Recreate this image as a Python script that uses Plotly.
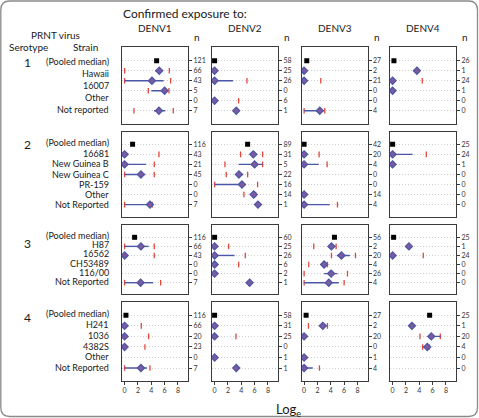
import plotly.graph_objects as go

W, H = 479, 418
N = None

columns = ["DENV1", "DENV2", "DENV3", "DENV4"]
serotypes = ["1", "2", "3", "4"]
strains_1 = ["(Pooled median)", "Hawaii", "16007", "Other", "Not reported"]
strains_2 = ["(Pooled median)", "16681", "New Guinea B", "New Guinea C", "PR-159", "Other", "Not Reported"]
strains_3 = ["(Pooled median)", "H87", "16562", "CH53489", "116/00", "Not Reported"]
strains_4 = ["(Pooled median)", "H241", "1036", "4382S", "Other", "Not Reported"]
x_ticks = [0, 2, 4, 6, 8]

# ---- DENV1 ----
denv1_median = [[4.8, 5.2, 4.1, 6.0, N, 5.15],
                [1.2, 0, 0, 2.45, N, N, 3.8],
                [1.5, 2.45, 0, N, N, 2.4],
                [0.2, 0, 0, 0, N, 2.45]]
denv1_lo = [[N, 4.6, 0, 4.0, N, 4.4],
            [N, N, 0, 0, N, N, 0],
            [N, 0, N, N, N, 0],
            [N, N, N, N, N, 0]]
denv1_hi = [[N, 5.6, 5.85, 6.5, N, 6.1],
            [N, N, 3.2, 3.1, N, N, 4.0],
            [N, 3.6, N, N, N, 4.3],
            [N, N, N, N, N, 3.35]]
denv1_red_lo = [[N, 0, 0, 3.55, N, 1.4],
                [N, 0, 0, 0, N, N, 0],
                [N, 0, 0, N, N, 0],
                [N, 0, 0, 0, N, 0]]
denv1_red_hi = [[N, 6.7, 6.9, 6.65, N, 7.3],
                [N, 5.15, 4.45, 4.45, N, N, 4.15],
                [N, 4.45, 4.45, N, N, 5.4],
                [N, 2.5, 3.6, 3.05, N, 3.8]]
denv1_n = [[121, 66, 43, 5, 0, 7], [116, 43, 21, 45, 0, 0, 7],
           [116, 66, 43, 0, 0, 7], [116, 66, 20, 23, 0, 7]]

# ---- DENV2 ----
denv2_median = [[0, 0, 0, N, 0, 3.25],
                [4.95, 5.8, 6.0, 3.65, 4.1, 5.85, 6.5],
                [0, 0, 0, 0, 0, 5.25],
                [0, 0, 0, N, 0, 3.25]]
denv2_lo = [[N, N, 0, N, N, N],
            [N, 5.4, 3.6, 3.2, 0, 5.5, N],
            [N, N, 0, N, N, N],
            [N, N, N, N, N, N]]
denv2_hi = [[N, N, 2.75, N, N, N],
            [N, 6.2, 7.2, 4.3, 4.6, 6.2, N],
            [N, N, 3.0, N, N, N],
            [N, N, N, N, N, N]]
denv2_red_lo = [[N, N, 0, N, 0, N],
                [N, 3.9, 1.55, 1.75, 0, 4.4, N],
                [N, 0, 0, 0, N, N],
                [N, N, 0, N, N, N]]
denv2_red_hi = [[N, N, 4.85, N, 3.6, N],
                [N, 7.2, 7.2, 4.95, 6.45, 6.15, N],
                [N, 2.1, 4.6, 3.6, N, N],
                [N, N, 3.2, N, N, N]]
denv2_n = [[58, 25, 26, 0, 6, 1], [89, 31, 5, 22, 16, 14, 1],
           [60, 25, 26, 6, 2, 1], [58, 31, 25, 0, 1, 1]]

# ---- DENV3 ----
denv3_median = [[0.4, 0, 0, N, N, 2.35],
                [0, 0, 0, N, N, 0, 0],
                [4.55, 4.1, 5.6, 3.0, 4.05, 3.7],
                [0.3, 2.8, 0, N, 0, 0]]
denv3_lo = [[N, N, N, N, N, 0],
            [N, N, 0, N, N, N, 0],
            [N, 3.9, 4.9, 2.6, 3.0, 0],
            [N, 2.4, N, N, N, 0]]
denv3_hi = [[N, N, N, N, N, 3.0],
            [N, N, 2.2, N, N, N, 3.85],
            [N, 4.7, 6.85, 3.5, 5.0, 5.2],
            [N, 3.4, N, N, N, 1.3]]
denv3_red_lo = [[N, N, 0, N, N, 0],
                [N, 0, 0, N, N, N, 0],
                [N, 1.45, 4.1, 0.7, 0, 0],
                [N, 0.65, N, N, N, 0]]
denv3_red_hi = [[N, N, 2.5, N, N, 3.1],
                [N, 2.25, 3.45, N, N, N, 5.0],
                [N, 4.8, 7.7, 3.5, 6.5, 6.0],
                [N, 3.5, N, N, N, 2.3]]
denv3_n = [[27, 2, 21, 0, 0, 4], [42, 20, 4, 0, 0, 14, 4],
           [56, 2, 20, 4, 26, 4], [27, 2, 20, 0, 1, 4]]

# ---- DENV4 ----
denv4_median = [[0.2, 3.65, 0, 0, N, N],
                [0, 0, 0, N, N, N, N],
                [0.15, 2.45, 0, N, N, N],
                [5.55, 2.9, 5.8, 5.2, N, N]]
denv4_lo = [[N, N, N, N, N, N],
            [N, 0, N, N, N, N, N],
            [N, N, N, N, N, N],
            [N, N, 5.8, 4.6, N, N]]
denv4_hi = [[N, N, N, N, N, N],
            [N, 3.0, N, N, N, N, N],
            [N, N, N, N, N, N],
            [N, N, 7.2, 5.7, N, N]]
denv4_red_lo = [[N, N, 0, N, N, N],
                [N, 0, N, N, N, N, N],
                [N, N, 0, N, N, N],
                [N, N, 4.1, 4.5, N, N]]
denv4_red_hi = [[N, N, 4.45, N, N, N],
                [N, 5.05, N, N, N, N, N],
                [N, N, 4.6, N, N, N],
                [N, N, 7.15, 5.5, N, N]]
denv4_n = [[26, 1, 24, 1, 0, 0], [25, 24, 1, 0, 0, 0, 0],
           [25, 1, 24, 0, 0, 0], [25, 1, 20, 4, 0, 0]]

col_data = [
    (denv1_median, denv1_lo, denv1_hi, denv1_red_lo, denv1_red_hi, denv1_n),
    (denv2_median, denv2_lo, denv2_hi, denv2_red_lo, denv2_red_hi, denv2_n),
    (denv3_median, denv3_lo, denv3_hi, denv3_red_lo, denv3_red_hi, denv3_n),
    (denv4_median, denv4_lo, denv4_hi, denv4_red_lo, denv4_red_hi, denv4_n),
]
strain_lists = [strains_1, strains_2, strains_3, strains_4]

# ---- layout geometry (pixels) ----
FONT = "Lato"
col_left = [122, 212, 301.5, 390]
col_w = 66
x0_off = 2.6
unit = 6.67
# (top, bottom, first-row y, row spacing)
row_geo = [(46.7, 124, 60.7, 10.0), (131.7, 217, 144.3, 10.05),
           (225, 294, 237.3, 9.08), (301.7, 380.7, 315.3, 10.55)]
label_y = [[61, 73.3, 85.5, 97.8, 110],
           [143, 153.3, 163.6, 174, 184, 194.3, 204.5],
           [235.7, 244.9, 254, 263.3, 272.5, 281.9],
           [313.5, 324.5, 335, 346, 356.7, 367.5]]
sero_y = [62, 144.5, 243.3, 317.3]

BLUE = "#4a56a6"
PURPLE = "#7d5aa0"
RED = "#e0483c"
TXT = "#1a1a1a"

fig = go.Figure()
layout = {}
annotations = []

for s in range(4):
    top, bot, first, sp = row_geo[s]
    nrows = len(denv1_n[s])
    for c in range(4):
        idx = s * 4 + c + 1
        sfx = "" if idx == 1 else str(idx)
        xa, ya = "x" + sfx, "y" + sfx
        med, lo, hi, rlo, rhi, nn = [d[s] for d in col_data[c]]
        rows = list(range(nrows))

        # red ticks
        rx, ry = [], []
        for r in rows:
            for v in (rlo[r], rhi[r]):
                if v is not None:
                    rx.append(v); ry.append(r)
        fig.add_trace(go.Scatter(x=rx, y=ry, mode="markers", xaxis=xa, yaxis=ya,
                                 marker=dict(symbol="line-ns", size=4,
                                             line=dict(color=RED, width=1.3)),
                                 showlegend=False, hoverinfo="skip"))
        # blue ranges
        lx, ly = [], []
        for r in rows:
            if lo[r] is not None and hi[r] is not None:
                lx += [lo[r], hi[r], None]; ly += [r, r, None]
        fig.add_trace(go.Scatter(x=lx, y=ly, mode="lines", xaxis=xa, yaxis=ya,
                                 line=dict(color=BLUE, width=1.4),
                                 showlegend=False, hoverinfo="skip"))
        # diamonds (strain medians)
        dx = [med[r] for r in rows[1:] if med[r] is not None]
        dy = [r for r in rows[1:] if med[r] is not None]
        fig.add_trace(go.Scatter(x=dx, y=dy, mode="markers", xaxis=xa, yaxis=ya,
                                 marker=dict(symbol="diamond", size=5.5, color=PURPLE,
                                             line=dict(color=BLUE, width=1.2)),
                                 showlegend=False, hoverinfo="skip"))
        # pooled median square
        fig.add_trace(go.Scatter(x=[med[0]], y=[0], mode="markers", xaxis=xa, yaxis=ya,
                                 marker=dict(symbol="square", size=5, color="black"),
                                 showlegend=False, hoverinfo="skip"))

        left = col_left[c]
        layout["xaxis" + sfx] = dict(
            domain=[left / W, (left + col_w) / W],
            range=[-x0_off / unit, (col_w - x0_off) / unit],
            anchor=ya, showgrid=False, zeroline=False,
            showline=True, mirror=True, linecolor="#3a3a3a", linewidth=1.3,
            tickvals=x_ticks, ticks="outside" if s == 3 else "",
            ticklen=3, tickcolor="#3a3a3a", showticklabels=(s == 3),
            tickfont=dict(family=FONT, size=7, color="#333"),
        )
        layout["yaxis" + sfx] = dict(
            domain=[1 - bot / H, 1 - top / H],
            range=[(bot - first) / sp, (top - first) / sp],
            anchor=xa, side="right", zeroline=False,
            showline=True, mirror=True, linecolor="#3a3a3a", linewidth=1.3,
            tickvals=rows, ticktext=[str(v) for v in nn],
            ticks="outside", ticklen=3, tickcolor="#3a3a3a",
            tickfont=dict(family=FONT, size=7, color="#333"),
            showgrid=True, gridcolor="#cfcfcf", griddash="1px,2px", gridwidth=0.8,
        )

    # strain labels
    for lab, py_ in zip(strain_lists[s], label_y[s]):
        annotations.append(dict(text=lab, x=111 / W, y=1 - py_ / H, xref="paper", yref="paper",
                                xanchor="right", yanchor="middle", showarrow=False,
                                font=dict(family=FONT, size=9, color=TXT)))
    annotations.append(dict(text=serotypes[s], x=27 / W, y=1 - sero_y[s] / H, xref="paper",
                            yref="paper", xanchor="center", yanchor="middle", showarrow=False,
                            font=dict(family=FONT, size=12, color=TXT)))

# headers
annotations.append(dict(text="Confirmed exposure to:", x=121 / W, y=1 - 14 / H, xref="paper",
                        yref="paper", xanchor="left", yanchor="middle", showarrow=False,
                        font=dict(family=FONT, size=12, color=TXT)))
for c, name in enumerate(columns):
    annotations.append(dict(text=name, x=(col_left[c] + col_w / 2) / W, y=1 - 28.5 / H,
                            xref="paper", yref="paper", xanchor="center", yanchor="middle",
                            showarrow=False, font=dict(family=FONT, size=10, color=TXT)))
    annotations.append(dict(text="n", x=(col_left[c] + col_w + 9) / W, y=1 - 37 / H,
                            xref="paper", yref="paper", xanchor="center", yanchor="middle",
                            showarrow=False, font=dict(family=FONT, size=10, color=TXT)))
annotations.append(dict(text="PRNT virus", x=55 / W, y=1 - 34.5 / H, xref="paper", yref="paper",
                        xanchor="center", yanchor="middle", showarrow=False,
                        font=dict(family=FONT, size=10, color=TXT)))
annotations.append(dict(text="Serotype", x=28 / W, y=1 - 47 / H, xref="paper", yref="paper",
                        xanchor="center", yanchor="middle", showarrow=False,
                        font=dict(family=FONT, size=10, color=TXT)))
annotations.append(dict(text="Strain", x=85 / W, y=1 - 47 / H, xref="paper", yref="paper",
                        xanchor="center", yanchor="middle", showarrow=False,
                        font=dict(family=FONT, size=10, color=TXT)))
annotations.append(dict(text="Log<sub>e</sub>", x=288 / W, y=1 - 410 / H, xref="paper",
                        yref="paper", xanchor="center", yanchor="middle", showarrow=False,
                        font=dict(family=FONT, size=13, color=TXT)))

# outer rounded frame
def px(x): return x / W
def py(y): return 1 - y / H
r = 9
x1, y1, x2, y2 = 0.8, 1.0, 477.5, 416.5
path = (f"M {px(x1 + r)} {py(y1)} L {px(x2 - r)} {py(y1)} Q {px(x2)} {py(y1)} {px(x2)} {py(y1 + r)} "
        f"L {px(x2)} {py(y2 - r)} Q {px(x2)} {py(y2)} {px(x2 - r)} {py(y2)} "
        f"L {px(x1 + r)} {py(y2)} Q {px(x1)} {py(y2)} {px(x1)} {py(y2 - r)} "
        f"L {px(x1)} {py(y1 + r)} Q {px(x1)} {py(y1)} {px(x1 + r)} {py(y1)} Z")

fig.update_layout(
    width=W, height=H, autosize=False,
    margin=dict(l=0, r=0, t=0, b=0),
    paper_bgcolor="white", plot_bgcolor="white",
    annotations=annotations,
    shapes=[dict(type="path", path=path, xref="paper", yref="paper",
                 line=dict(color="#8a8a8a", width=1.3))],
    **layout,
)

fig.write_html("out.html", config={"displayModeBar": False})
